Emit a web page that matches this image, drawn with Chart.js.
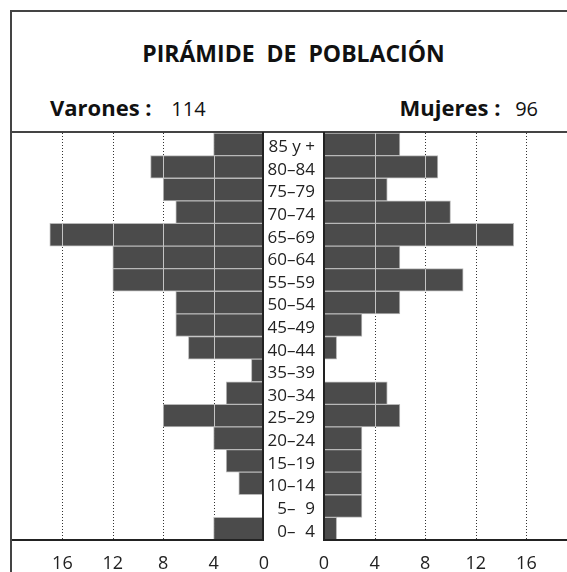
<!DOCTYPE html>
<html><head><meta charset="utf-8">
<script src="https://cdn.jsdelivr.net/npm/chart.js@4/dist/chart.umd.min.js"></script>
<style>
html,body{margin:0;padding:0;width:567px;height:572px;overflow:hidden;background:#fff;font-family:"Open Sans",sans-serif;color:#111;}
.abs{position:absolute;}
#frame{left:10px;top:10px;width:700px;height:700px;border-top:2px solid #444;border-left:2px solid #444;box-sizing:border-box;}
#sep{left:10px;top:131px;width:700px;height:0;border-top:2px solid #444;}
#title{left:0;top:42px;width:587px;text-align:center;font-weight:700;font-size:23px;line-height:23px;white-space:pre;}
.hdr{top:96px;font-size:22px;line-height:22px;font-weight:700;white-space:pre;}
.hdr span{font-weight:400;font-size:20px;}
#lc{left:0;top:132px;}
#rc{left:264px;top:132px;}
</style></head>
<body>
<div id="frame" class="abs"></div>
<div id="sep" class="abs"></div>
<div id="title" class="abs">PIRÁMIDE  DE  POBLACIÓN</div>
<div class="abs hdr" style="left:50px;">Varones : <span style="margin-left:14px;">114</span></div>
<div class="abs hdr" style="left:0;width:538px;text-align:right;">Mujeres : <span style="margin-left:9px;">96</span></div>
<canvas id="lc" class="abs" width="284" height="440" style="width:284px;height:440px;"></canvas>
<canvas id="rc" class="abs" width="313" height="440" style="width:313px;height:440px;"></canvas>
<script>
const ageGroups = ['85 y +','80–84','75–79','70–74','65–69','60–64','55–59','50–54','45–49','40–44','35–39','30–34','25–29','20–24','15–19','10–14','5–\u20079','0–\u20074'];
const varones = [4,9,8,7,17,12,12,7,7,6,1,3,8,4,3,2,0,4];
const mujeres = [6,9,5,10,15,6,11,6,3,1,0,5,6,3,3,3,3,1];
const xTicks = [0,4,8,12,16];
const xMax = 20;

const FONT = '"Open Sans", sans-serif';

const gridPlugin = {
  id: 'pyramidGrid',
  beforeDatasetsDraw(chart) {
    const {ctx, chartArea: a} = chart;
    const xs = chart.scales.x;
    ctx.save();
    ctx.strokeStyle = '#333';
    ctx.lineWidth = 1;
    ctx.setLineDash([1, 2]);
    xTicks.forEach(v => {
      if (v === 0) return;
      const px = Math.round(xs.getPixelForValue(v)) + 0.5;
      ctx.beginPath();
      ctx.moveTo(px, a.top);
      ctx.lineTo(px, a.bottom);
      ctx.stroke();
    });
    ctx.restore();
  },
  afterDatasetsDraw(chart) {
    const {ctx, chartArea: a} = chart;
    const xs = chart.scales.x;
    const meta = chart.getDatasetMeta(0);
    const data = chart.data.datasets[0].data;
    ctx.save();
    ctx.strokeStyle = '#c4c4c4';
    ctx.lineWidth = 1;
    meta.data.forEach((bar, i) => {
      const v = data[i];
      const h = bar.height;
      xTicks.forEach(t => {
        if (t === 0 || t >= v) return;
        const px = Math.round(xs.getPixelForValue(t)) + 0.5;
        ctx.beginPath();
        ctx.moveTo(px, bar.y - h / 2);
        ctx.lineTo(px, bar.y + h / 2);
        ctx.stroke();
      });
    });
    ctx.strokeStyle = '#222';
    ctx.lineWidth = 2;
    const zx = xs.getPixelForValue(0);
    const isLeft = chart.canvas.id === 'lc';
    const bx = isLeft ? zx - 1 : zx;
    ctx.beginPath();
    ctx.moveTo(bx, a.top - 1);
    ctx.lineTo(bx, a.bottom + 1);
    ctx.stroke();
    ctx.beginPath();
    ctx.moveTo(a.left, a.bottom);
    ctx.lineTo(a.right, a.bottom);
    ctx.stroke();
    ctx.restore();
  }
};

function makeChart(id, values, isLeft) {
  return new Chart(document.getElementById(id), {
    type: 'bar',
    data: {
      labels: ageGroups,
      datasets: [{
        data: values,
        backgroundColor: '#4b4b4b',
        borderColor: '#b8b8b8',
        borderWidth: 1,
        borderSkipped: false,
        barPercentage: 1,
        categoryPercentage: 1
      }]
    },
    options: {
      indexAxis: 'y',
      responsive: false,
      animation: false,
      events: [],
      layout: { padding: { left: isLeft ? 12 : 0, top: 1, right: isLeft ? 20 : 0, bottom: 0 } },
      plugins: { legend: { display: false }, tooltip: { enabled: false }, title: { display: false } },
      scales: {
        x: {
          reverse: isLeft,
          min: 0,
          max: xMax,
          afterBuildTicks(scale) { scale.ticks = xTicks.map(v => ({ value: v })); },
          afterFit(scale) { scale.height = 32; scale.paddingLeft = 0; scale.paddingRight = 0; },
          grid: { display: false, drawTicks: false },
          border: { display: false },
          ticks: { color: '#222', padding: 13, font: { family: FONT, size: 18 }, maxRotation: 0, autoSkip: false }
        },
        y: {
          display: !isLeft,
          position: 'left',
          afterFit(scale) { scale.width = isLeft ? 0 : 60; scale.paddingTop = 0; scale.paddingBottom = 0; },
          grid: { display: false, drawTicks: false },
          border: { display: false },
          ticks: { color: '#222', padding: 9, labelOffset: 3, font: { family: FONT, size: 17 }, autoSkip: false }
        }
      }
    },
    plugins: [gridPlugin]
  });
}

makeChart('lc', varones, true);
makeChart('rc', mujeres, false);
</script>
</body></html>
